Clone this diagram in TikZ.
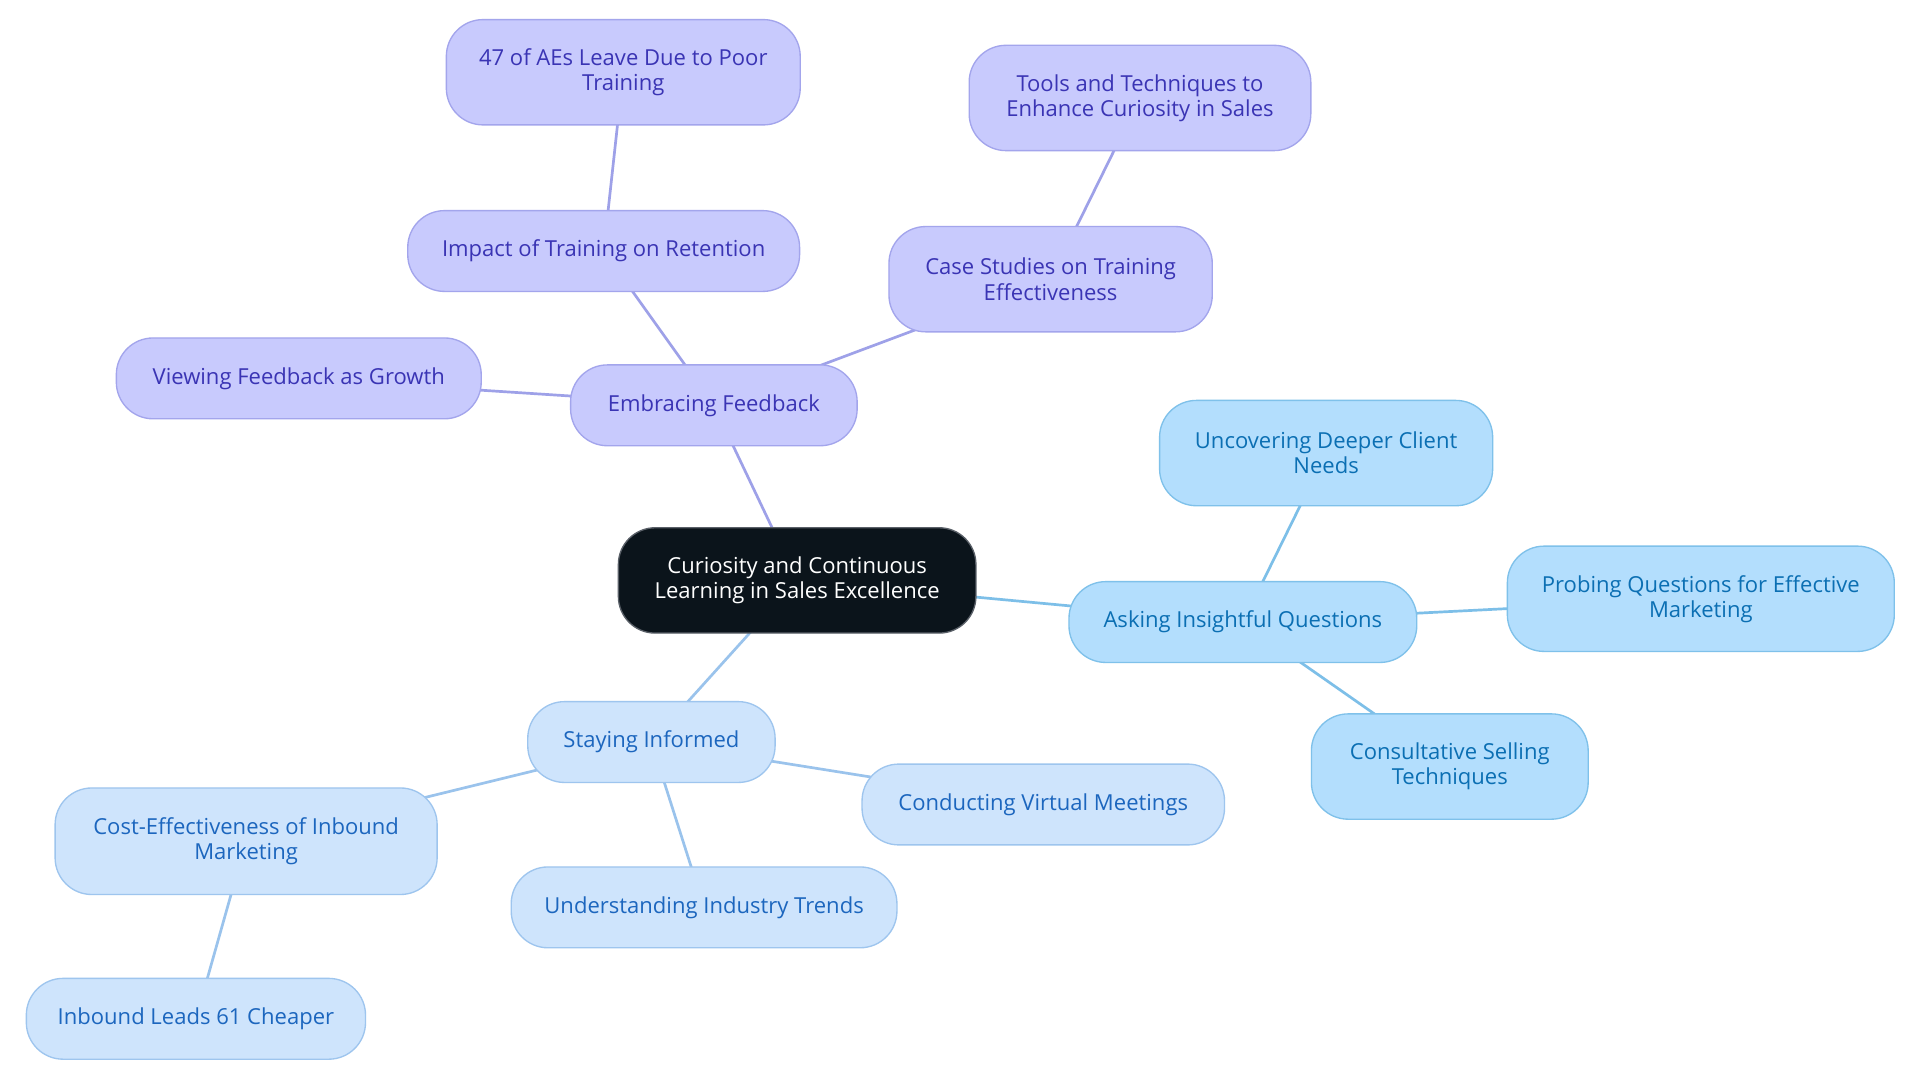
\documentclass[tikz,border=0pt]{standalone}
\usepackage{fontspec}
\setmainfont{Open Sans}
\usetikzlibrary{backgrounds}
\begin{document}
\begin{tikzpicture}[x=1pt,y=-1pt,
  base/.style={rectangle,rounded corners=30pt,inner sep=0pt,align=center,
    font=\fontsize{18}{20.5}\selectfont,line width=1.1pt},
  root/.style={base,fill=rootfill,draw=rootdraw,text=white},
  pnode/.style={base,fill=pfill,draw=pdraw,text=ptext},
  bnode/.style={base,fill=bfill,draw=bdraw,text=btext},
  lnode/.style={base,fill=lfill,draw=ldraw,text=ltext},
  pedge/.style={draw=pedgec,line width=2.2pt},
  bedge/.style={draw=bedgec,line width=2.2pt},
  ledge/.style={draw=ledgec,line width=2.2pt},
]
\definecolor{rootfill}{HTML}{0B141B}
\definecolor{rootdraw}{HTML}{5A6068}
\definecolor{pfill}{HTML}{C8CAFD}
\definecolor{pdraw}{HTML}{A3A5EC}
\definecolor{ptext}{HTML}{3A34B4}
\definecolor{pedgec}{HTML}{9EA1E8}
\definecolor{bfill}{HTML}{B3DEFD}
\definecolor{bdraw}{HTML}{7FC1EA}
\definecolor{btext}{HTML}{0B6FB3}
\definecolor{bedgec}{HTML}{7DBFE8}
\definecolor{lfill}{HTML}{CEE4FC}
\definecolor{ldraw}{HTML}{9EC5EE}
\definecolor{ltext}{HTML}{1C66BE}
\definecolor{ledgec}{HTML}{9AC3EC}
\useasboundingbox (0,0) rectangle (1568,884);

\node[root,minimum width=292pt,minimum height=86pt] (c) at (651,474) {Curiosity and Continuous\\Learning in Sales Excellence};

\node[pnode,minimum width=234pt,minimum height=66pt] (ef) at (583,331) {Embracing Feedback};
\node[pnode,minimum width=298pt,minimum height=66pt] (vf) at (244,309) {Viewing Feedback as Growth};
\node[pnode,minimum width=320pt,minimum height=66pt] (it) at (493,205) {Impact of Training on Retention};
\node[pnode,minimum width=289pt,minimum height=86pt] (ae) at (509,59) {47 of AEs Leave Due to Poor\\Training};
\node[pnode,minimum width=264pt,minimum height=86pt] (cs) at (858,228) {Case Studies on Training\\Effectiveness};
\node[pnode,minimum width=279pt,minimum height=86pt] (tt) at (931,80) {Tools and Techniques to\\Enhance Curiosity in Sales};

\node[bnode,minimum width=284pt,minimum height=66pt] (aq) at (1015,508) {Asking Insightful Questions};
\node[bnode,minimum width=272pt,minimum height=86pt] (uc) at (1083,370) {Uncovering Deeper Client\\Needs};
\node[bnode,minimum width=316pt,minimum height=86pt] (pq) at (1389,489) {Probing Questions for Effective\\Marketing};
\node[bnode,minimum width=226pt,minimum height=86pt] (cst) at (1184,626) {Consultative Selling\\Techniques};

\node[lnode,minimum width=202pt,minimum height=66pt] (si) at (532,606) {Staying Informed};
\node[lnode,minimum width=296pt,minimum height=66pt] (vm) at (852,657) {Conducting Virtual Meetings};
\node[lnode,minimum width=315pt,minimum height=66pt] (ui) at (575,741) {Understanding Industry Trends};
\node[lnode,minimum width=312pt,minimum height=87pt] (ce) at (201,687) {Cost-Effectiveness of Inbound\\Marketing};
\node[lnode,minimum width=277pt,minimum height=66pt] (il) at (160,832) {Inbound Leads 61 Cheaper};

\begin{pgfonlayer}{background}
\fill[white] (0,0) rectangle (1568,884);
\draw[pedge] (c.center) -- (ef.center);
\draw[pedge] (ef.center) -- (vf.center);
\draw[pedge] (ef.center) -- (it.center);
\draw[pedge] (it.center) -- (ae.center);
\draw[pedge] (ef.center) -- (cs.center);
\draw[pedge] (cs.center) -- (tt.center);
\draw[bedge] (c.center) -- (aq.center);
\draw[bedge] (aq.center) -- (uc.center);
\draw[bedge] (aq.center) -- (pq.center);
\draw[bedge] (aq.center) -- (cst.center);
\draw[ledge] (c.center) -- (si.center);
\draw[ledge] (si.center) -- (vm.center);
\draw[ledge] (si.center) -- (ui.center);
\draw[ledge] (si.center) -- (ce.center);
\draw[ledge] (ce.center) -- (il.center);
\end{pgfonlayer}
\end{tikzpicture}
\end{document}
